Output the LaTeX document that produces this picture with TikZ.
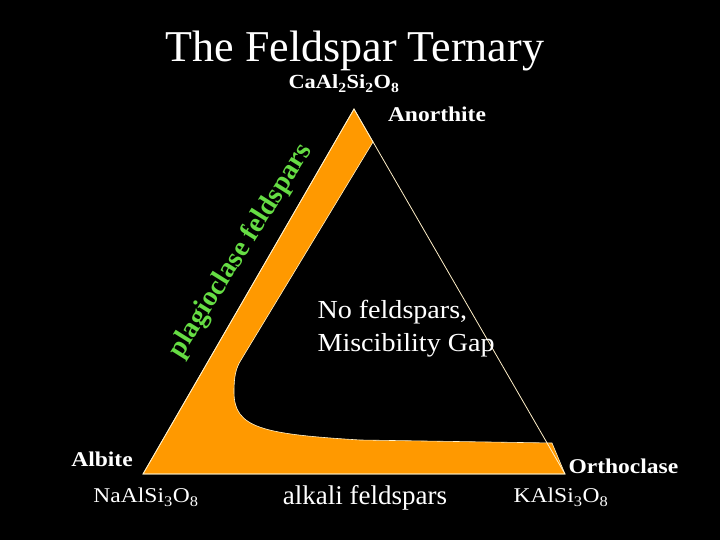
\documentclass[tikz,border=0pt]{standalone}
\usepackage{fontspec}
\setmainfont{Liberation Serif}
\newfontfamily\widefont[FakeStretch=1.12]{Liberation Serif}
\newfontfamily\midfont[FakeStretch=1.08]{Liberation Serif}
\usepackage{tikz}
\usetikzlibrary{positioning, calc}
\definecolor{feldorange}{RGB}{255,153,0}
\definecolor{plagreen}{RGB}{102,221,68}
\definecolor{edgecream}{RGB}{255,240,200}

\begin{document}
\begin{tikzpicture}[x=1pt, y=1pt,
    vertexlabel/.style={text=white, font=\widefont\bfseries\fontsize{21}{23}\selectfont},
    formula/.style={text=white, font=\widefont\fontsize{21}{23}\selectfont},
    fieldtext/.style={text=white, font=\midfont\fontsize{26}{33}\selectfont}]
        % Fond noir
        \fill[black] (0,0) rectangle (720,540);

        % Sommets du triangle
        \coordinate (An) at (354,431);
        \coordinate (Ab) at (143,66);
        \coordinate (Or) at (565,66);

        % Bande orange (feldspaths)
        \filldraw[fill=feldorange, draw=edgecream, line width=0.6pt]
            (An) -- (Ab) -- (Or) -- (552,97) -- (360,100)
            .. controls (262,106) and (234,112) .. (234,148)
            .. controls (234,164) and (236,172) .. (241,180) -- (373,398) -- cycle;

        % Contour du triangle
        \draw[edgecream, line width=0.8pt] (An) -- (Ab) -- (Or) -- cycle;

        % Titre
        \node[text=white, font=\fontsize{44}{50}\selectfont, anchor=base] (title) at (355,478) {The Feldspar Ternary};

        % Anorthite
        \node[formula, font=\widefont\bfseries\fontsize{20}{22}\selectfont, anchor=base] (anform) at (344,451) {CaAl\textsubscript{2}Si\textsubscript{2}O\textsubscript{8}};
        \node[vertexlabel, anchor=base] (anname) at (437,418) {Anorthite};

        % Plagioclases
        \node[text=plagreen, font=\bfseries\fontsize{28}{30}\selectfont, rotate=58] (plag) at (241,289) {plagioclase feldspars};

        % Lacune de miscibilite
        \node[fieldtext, align=left, anchor=base west] (gap) at (314,188) {No feldspars,\\Miscibility Gap};

        % Albite
        \node[vertexlabel, anchor=base] (abname) at (102,73) {Albite};
        \node[formula, anchor=base] (abform) at (146,37) {NaAlSi\textsubscript{3}O\textsubscript{8}};

        % Feldspaths alcalins
        \node[text=white, font=\fontsize{27}{30}\selectfont, anchor=base] (alk) at (365,35) {alkali feldspars};

        % Orthoclase
        \node[vertexlabel, anchor=base west] (orname) at (565,66) {Orthoclase};
        \node[formula, anchor=base] (orform) at (561,37) {KAlSi\textsubscript{3}O\textsubscript{8}};
    \end{tikzpicture}
\end{document}
